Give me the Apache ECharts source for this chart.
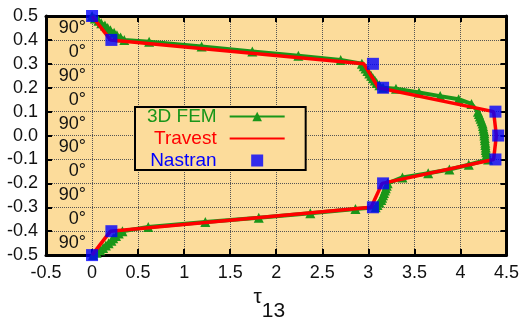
<!DOCTYPE html>
<html><head><meta charset="utf-8">
<script src="https://cdn.jsdelivr.net/npm/echarts@6/dist/echarts.min.js"></script>
<style>html,body{margin:0;padding:0;background:#fff}#c{width:522px;height:327px}</style>
</head><body><div id="c"></div>
<script>
// 3D FEM (through-thickness distribution, top to bottom)
const femX = [
  0.00,0.03,0.07,0.10,0.14,0.17,0.20,0.24,0.27,0.31,0.35,
  0.62,1.19,1.74,2.24,2.70,
  2.93,2.95,2.97,2.99,3.01,3.03,3.05,3.07,3.09,3.12,3.16,
  3.30,3.55,3.78,3.98,4.12,
  4.19,4.20,4.21,4.22,4.23,4.24,4.245,4.25,4.255,4.26,4.26,4.265,4.265,4.27,4.27,4.275,4.275,4.28,4.285,4.29,4.30,
  4.09,3.88,3.65,3.37,
  3.21,3.20,3.19,3.18,3.17,3.16,3.15,3.14,3.12,3.10,3.08,
  2.86,2.37,1.81,1.23,0.61,
  0.33,0.29,0.26,0.23,0.21,0.18,0.15,0.12,0.09,0.05,0.01
];
const femY = [
  0.50,0.49,0.48,0.47,0.46,0.45,0.44,0.43,0.42,0.41,0.40,
  0.392,0.372,0.352,0.334,0.316,
  0.30,0.29,0.28,0.27,0.26,0.25,0.24,0.23,0.22,0.21,0.20,
  0.196,0.180,0.165,0.152,0.132,
  0.10,0.09,0.08,0.07,0.06,0.05,0.04,0.03,0.02,0.01,0.00,-0.01,-0.02,-0.03,-0.04,-0.05,-0.06,-0.07,-0.08,-0.09,-0.10,
  -0.122,-0.142,-0.158,-0.175,
  -0.20,-0.21,-0.22,-0.23,-0.24,-0.25,-0.26,-0.27,-0.28,-0.29,-0.30,
  -0.307,-0.325,-0.344,-0.362,-0.382,
  -0.40,-0.41,-0.42,-0.43,-0.44,-0.45,-0.46,-0.47,-0.48,-0.49,-0.50
];
const travestX = [0, 0.20, 2.95, 3.11, 4.36, 4.39, 4.36, 3.15, 3.03, 0.20, 0];
const travestY = [0.5, 0.4, 0.3, 0.2, 0.1, 0.0, -0.1, -0.2, -0.3, -0.4, -0.5];
const nastranX = [0, 0.21, 3.05, 3.16, 4.38, 4.41, 4.38, 3.16, 3.05, 0.21, 0];
const nastranY = [0.5, 0.4, 0.3, 0.2, 0.1, 0.0, -0.1, -0.2, -0.3, -0.4, -0.5];
// ply angle labels, bottom layer to top layer
const plyLabels = ['90°','0°','90°','0°','90°','90°','0°','90°','0°','90°'];
const xName = 'τ';
const xNameSub = '13';

const pair = (xs, ys) => xs.map((x, i) => [x, ys[i]]);
const BG = '#fcdc9b';
const GREEN = '#199619';
const FONT = 'Liberation Sans, Arial, sans-serif';
const chart = echarts.init(document.getElementById('c'), null, {renderer: 'canvas'});
const frame = {show: true, onZero: false, lineStyle: {color: '#000', width: 3}};
const grid = {show: true, type: 'dotted', color: '#555', width: 1};
chart.setOption({
  animation: false,
  backgroundColor: '#fff',
  grid: {left: 46, top: 16, right: 12, bottom: 59, show: true, backgroundColor: BG, borderWidth: 0},
  xAxis: [{
    type: 'value', min: -0.5, max: 4.5, interval: 0.5, position: 'bottom',
    axisLine: frame, axisTick: {show: true, inside: true, length: 6, lineStyle: {color: '#000', width: 2}},
    splitLine: {show: true, lineStyle: grid},
    axisLabel: {fontFamily: FONT, fontSize: 18, color: '#111', margin: 9},
    name: '{a|' + xName + '}{b|' + xNameSub + '}', nameLocation: 'middle', nameGap: 29,
    nameTextStyle: {rich: {
      a: {fontFamily: FONT, fontSize: 21, color: '#111', verticalAlign: 'top'},
      b: {fontFamily: FONT, fontSize: 21, color: '#111', padding: [14, 14, 0, 0]}
    }}
  }, {
    type: 'value', min: -0.5, max: 4.5, interval: 0.5, position: 'top',
    axisLine: frame, axisTick: {show: true, inside: true, length: 6, lineStyle: {color: '#000', width: 2}},
    splitLine: {show: false}, axisLabel: {show: false}
  }],
  yAxis: [{
    type: 'value', min: -0.5, max: 0.5, interval: 0.1, position: 'left',
    axisLine: frame, axisTick: {show: true, inside: true, length: 6, lineStyle: {color: '#000', width: 2}},
    splitLine: {show: true, lineStyle: grid},
    axisLabel: {fontFamily: FONT, fontSize: 18, color: '#111', margin: 8,
      formatter: v => (Math.abs(v) < 1e-9 ? 0 : v).toFixed(1)}
  }, {
    type: 'value', min: -0.5, max: 0.5, interval: 0.1, position: 'right',
    axisLine: frame, axisTick: {show: true, inside: true, length: 6, lineStyle: {color: '#000', width: 2}},
    splitLine: {show: false}, axisLabel: {show: false}
  }, {
    type: 'category', data: plyLabels, position: 'left', boundaryGap: true,
    axisLine: {show: false}, axisTick: {show: false}, splitLine: {show: false},
    axisLabel: {inside: true, align: 'right', margin: 40, fontFamily: FONT, fontSize: 18, color: '#111'}
  }],
  legend: {
    orient: 'vertical', left: 135, top: 107, align: 'right',
    itemWidth: 55, itemHeight: 12, itemGap: 3, padding: [0, 20, 0, 12],
    backgroundColor: BG, borderColor: '#000', borderWidth: 2, selectedMode: false,
    textStyle: {fontFamily: FONT, fontSize: 19, lineHeight: 18, padding: [0, 8, 0, 0]},
    data: [
      {name: '3D FEM', textStyle: {color: GREEN}},
      {name: 'Travest', textStyle: {color: '#ff0000'}, itemStyle: {opacity: 0}},
      {name: 'Nastran', textStyle: {color: '#0000ff'}, icon: 'path://M0 0H10V10H0Z'}
    ]
  },
  series: [{
    name: '3D FEM', type: 'line', data: pair(femX, femY), z: 2,
    symbol: 'triangle', symbolSize: 10, showAllSymbol: true,
    lineStyle: {color: GREEN, width: 4}, itemStyle: {color: GREEN}
  }, {
    name: 'Travest', type: 'line', data: pair(travestX, travestY), z: 3,
    symbol: 'none', lineStyle: {color: '#ff0000', width: 3.5}, itemStyle: {color: '#ff0000'}
  }, {
    name: 'Nastran', type: 'scatter', data: pair(nastranX, nastranY), z: 4,
    symbol: 'rect', symbolSize: 12, itemStyle: {color: '#0000ff'}
  }]
});
</script></body></html>
